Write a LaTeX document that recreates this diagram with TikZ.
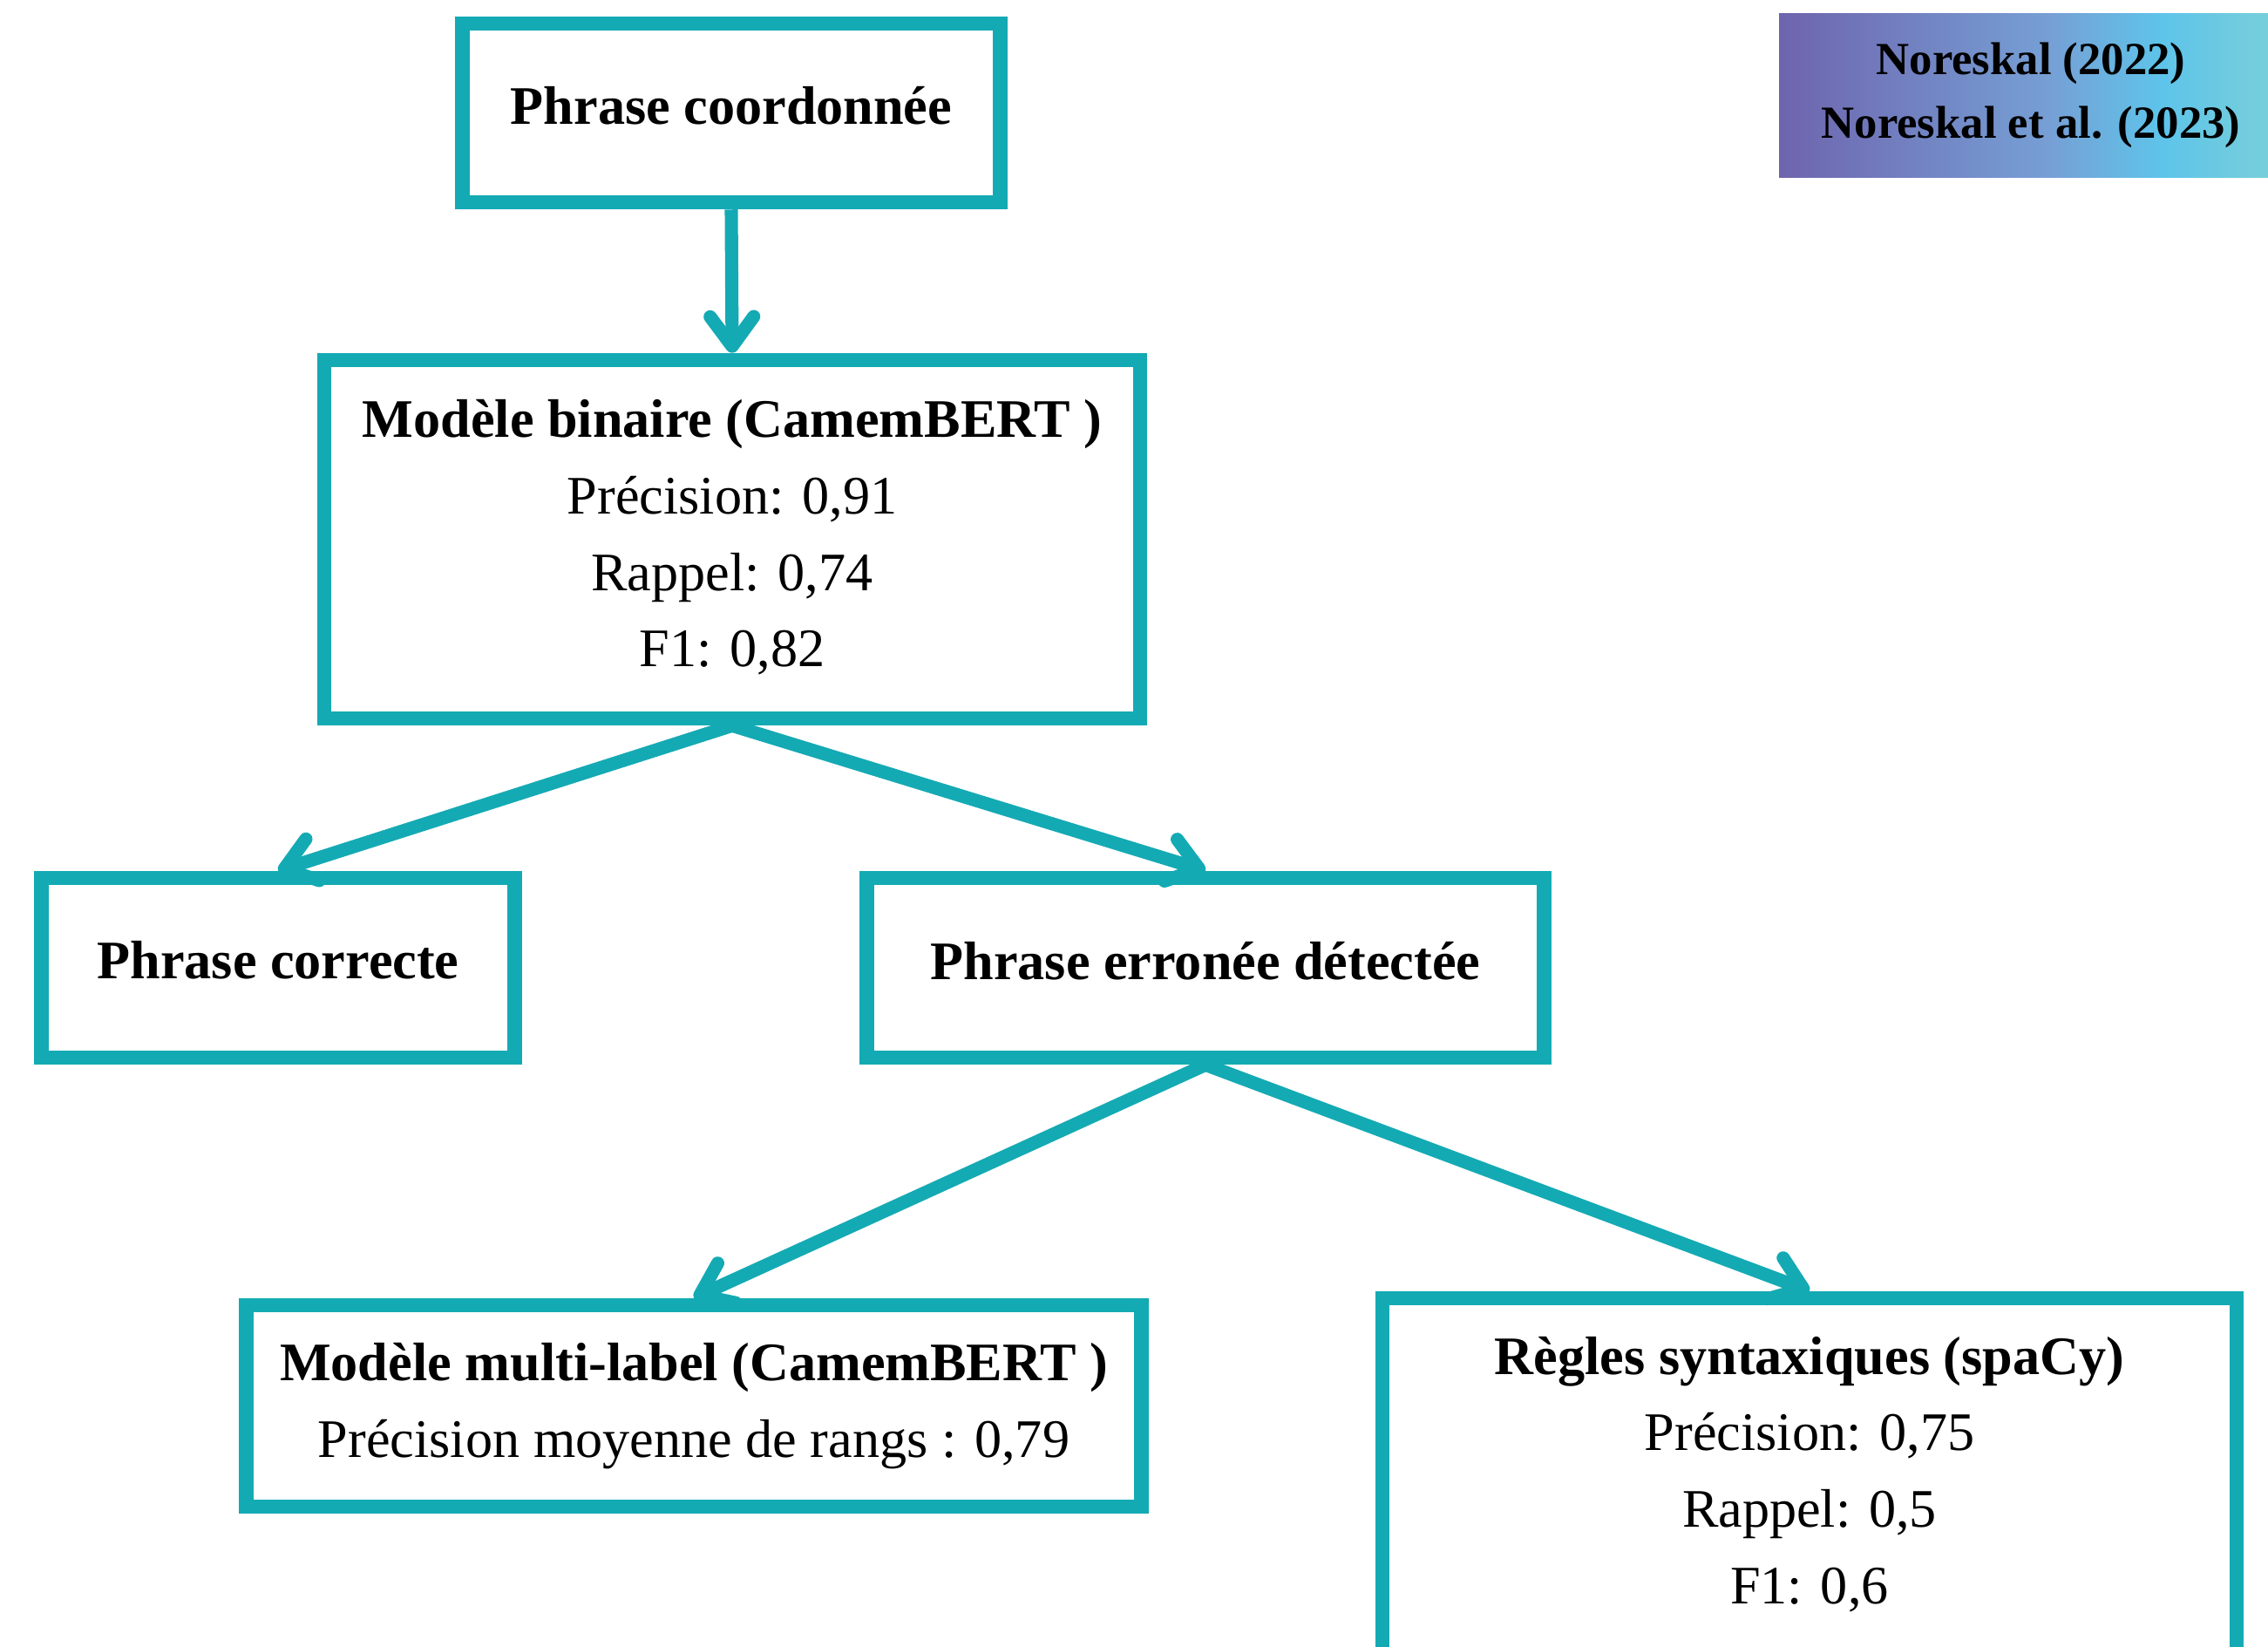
\documentclass[tikz,border=0pt]{standalone}
\usepackage{fontspec}
\setmainfont{Liberation Serif}
\usetikzlibrary{arrows.meta}
\definecolor{boxteal}{RGB}{20,170,180}
\definecolor{refpurple}{RGB}{110,100,174}
\definecolor{refmid}{RGB}{118,160,213}
\definecolor{refsky}{RGB}{94,196,234}
\definecolor{refaqua}{RGB}{122,208,216}
\pgfdeclarehorizontalshading{refshade}{100bp}{color(0bp)=(refpurple); color(25bp)=(refpurple); color(52bp)=(refmid); color(63bp)=(refsky); color(75bp)=(refaqua); color(100bp)=(refaqua)}
\tikzstyle{BoxNode}=[rectangle, draw=boxteal, line width=4.7pt, align=center, inner sep=0pt, font=\fontsize{17.7}{24.9}\selectfont]
\tikzstyle{RefNode}=[rectangle, shading=refshade, align=center, inner sep=0pt, font=\bfseries\fontsize{15}{20.8}\selectfont]
\tikzstyle{FlowEdge}=[-{Straight Barb[length=3.4mm, width=5mm, line cap=round, line join=round]}, draw=boxteal, line width=4.3pt]

\begin{document}
\begin{tikzpicture}
\useasboundingbox (0,0) rectangle (26.02,-18.88);
\node[RefNode, minimum width=5.78cm, minimum height=1.87cm](REF) at (23.30,-1.095) {Noreskal (2022)\\Noreskal et al. (2023)};

\node[BoxNode, minimum width=6.17cm, minimum height=2.05cm](PHRASE) at (8.39,-1.295) {\textbf{Phrase coordonnée}\\[-20pt]};
\node[BoxNode, minimum width=9.36cm, minimum height=4.11cm](BINAIRE) at (8.40,-6.185) {\textbf{Modèle binaire (CamemBERT )}\\Précision: 0,91\\Rappel: 0,74\\F1: 0,82\\[-21pt]};
\node[BoxNode, minimum width=5.43cm, minimum height=2.06cm](CORRECTE) at (3.19,-11.10) {\textbf{Phrase correcte}\\[-20pt]};
\node[BoxNode, minimum width=7.77cm, minimum height=2.06cm](ERRONEE) at (13.83,-11.10) {\textbf{Phrase erronée détectée}\\[-20pt]};
\node[BoxNode, minimum width=10.27cm, minimum height=2.31cm](MULTI) at (7.96,-16.125) {\textbf{Modèle multi-label (CamemBERT )}\\Précision moyenne de rangs : 0,79\\[-21pt]};
\node[BoxNode, minimum width=9.80cm, minimum height=4.36cm](REGLES) at (20.76,-17.07) {\textbf{Règles syntaxiques (spaCy)}\\Précision: 0,75\\Rappel: 0,5\\F1: 0,6\\[-13pt]};

\draw[FlowEdge](PHRASE.south) -- (BINAIRE.north);
\draw[FlowEdge](BINAIRE.south) -- (CORRECTE.north);
\draw[FlowEdge](BINAIRE.south) -- (ERRONEE.north);
\draw[FlowEdge](ERRONEE.south) -- (MULTI.north);
\draw[FlowEdge](ERRONEE.south) -- (REGLES.north);
\end{tikzpicture}
\end{document}
